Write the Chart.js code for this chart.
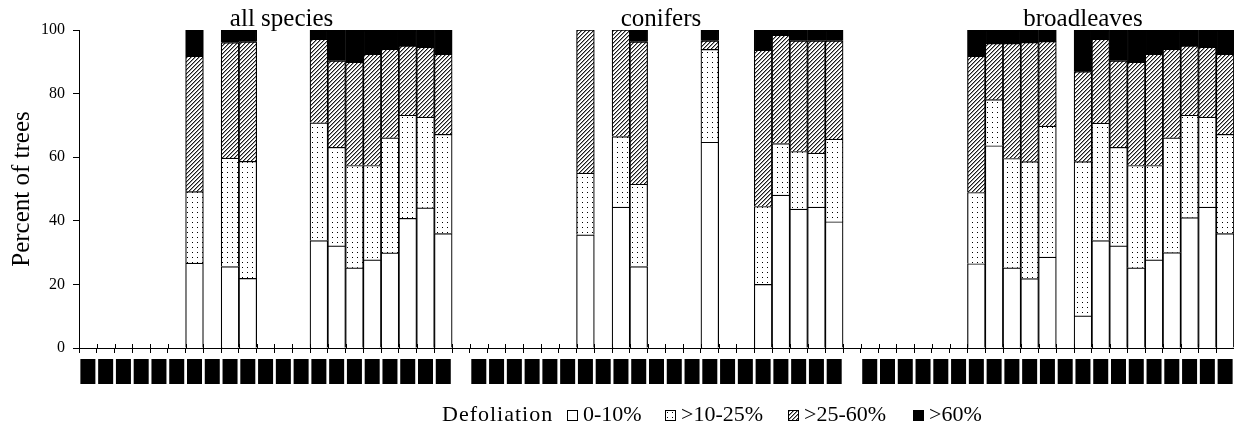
<!DOCTYPE html>
<html><head><meta charset="utf-8">
<script src="https://cdn.jsdelivr.net/npm/chart.js@4.4.1/dist/chart.umd.min.js"></script>
<style>html,body{margin:0;padding:0;background:#fff}canvas{display:block}</style>
</head><body>
<canvas id="c" width="1234" height="430"></canvas>
<script>
// ---------------- data ----------------
const groups = ['all species', 'conifers', 'broadleaves'];
const years = ['1988','1989','1990','1991','1992','1993','1994','1995','1996','1997','1998',
               '1999','2000','2001','2002','2003','2004','2005','2006','2007','2008'];
const classes = ['0-10%', '>10-25%', '>25-60%', '>60%'];

// all species
const allC1 = [null,null,null,null,null,null,26.7,null,25.6,21.9,null,null,null,33.8,32.1,25.2,27.7,29.9,40.8,44.1,36.0];
const allC2 = [null,null,null,null,null,null,22.5,null,34.1,36.8,null,null,null,37.0,31.0,32.2,29.7,36.2,32.4,28.5,31.2];
const allC3 = [null,null,null,null,null,null,42.6,null,36.3,37.6,null,null,null,26.3,27.2,32.5,35.0,27.9,21.8,22.0,25.2];
const allC4 = [null,null,null,null,null,null, 8.2,null, 4.0, 3.7,null,null,null, 2.9, 9.7,10.1, 7.6, 6.0, 5.0, 5.4, 7.6];
// conifers
const conC1 = [null,null,null,null,null,null,35.6,null,44.3,25.6,null,null,null,64.7,null,null,20.0,48.1,43.7,44.3,39.7];
const conC2 = [null,null,null,null,null,null,19.4,null,22.2,25.9,null,null,null,29.2,null,null,24.5,16.2,18.1,17.0,26.0];
const conC3 = [null,null,null,null,null,null,45.0,null,33.5,44.8,null,null,null, 2.7,null,null,49.2,34.1,34.8,35.3,30.9];
const conC4 = [null,null,null,null,null,null,null,null,null, 3.7,null,null,null, 3.4,null,null, 6.3, 1.6, 3.4, 3.4, 3.4];
// broadleaves
const brdC1 = [null,null,null,null,null,null,26.5,63.6,25.2,21.8,28.6,null,10.1,33.8,32.1,25.2,27.7,30.0,41.0,44.3,36.0];
const brdC2 = [null,null,null,null,null,null,22.4,14.5,34.4,36.8,41.2,null,48.5,36.9,31.0,32.2,29.7,36.1,32.2,28.3,31.2];
const brdC3 = [null,null,null,null,null,null,42.9,17.7,36.2,37.5,26.6,null,28.3,26.4,27.2,32.5,35.0,27.9,21.8,22.0,25.2];
const brdC4 = [null,null,null,null,null,null, 8.2, 4.2, 4.2, 3.9, 3.6,null,13.1, 2.9, 9.7,10.1, 7.6, 6.0, 5.0, 5.4, 7.6];

// ---------------- build ----------------
const join3 = (a, b, c) => [...a, null, ...b, null, ...c];
const labels = [...years, '', ...years, '', ...years];
const series = [
  join3(allC1, conC1, brdC1),
  join3(allC2, conC2, brdC2),
  join3(allC3, conC3, brdC3),
  join3(allC4, conC4, brdC4)
];

// layout / style
const SERIF = '"Liberation Serif", "Times New Roman", serif';
const titleAt = [10.9, 32.25, 56.0];      // category position of the group titles
const legendCfg = { title: 'Defoliation', titleX: 442, boxX: [567, 665, 788, 913], box: 11, baseline: 421, size: 22 };

function makeFill(kind) {
  const c = document.createElement('canvas');
  const g = c.getContext('2d');
  if (kind === 'white') return '#ffffff';
  if (kind === 'black') return '#000000';
  if (kind === 'dots') {
    c.width = 5; c.height = 5;
    g.fillStyle = '#fff'; g.fillRect(0, 0, 5, 5);
    g.fillStyle = '#000'; g.fillRect(2, 2, 1, 1);
  }
  if (kind === 'hatch') {
    c.width = 4; c.height = 4;
    g.fillStyle = '#fff'; g.fillRect(0, 0, 4, 4);
    for (let y = 0; y < 4; y++) {
      for (let x = 0; x < 4; x++) {
        const m = (x + y) % 4;
        if (m === 3) { g.fillStyle = '#1a1a1a'; g.fillRect(x, y, 1, 1); }
        else if (m === 0) { g.fillStyle = '#9a9a9a'; g.fillRect(x, y, 1, 1); }
      }
    }
  }
  return g.createPattern(c, 'repeat');
}
const fills = [makeFill('white'), makeFill('dots'), makeFill('hatch'), makeFill('black')];

const groupTitles = {
  id: 'groupTitles',
  afterDraw(chart) {
    const ctx = chart.ctx, xs = chart.scales.x;
    ctx.save();
    ctx.font = '25px ' + SERIF;
    ctx.fillStyle = '#000';
    ctx.textAlign = 'center';
    ctx.textBaseline = 'alphabetic';
    groups.forEach((g, i) => ctx.fillText(g, xs.getPixelForValue(titleAt[i]), 26));
    ctx.restore();
  }
};

const crossTicks = {
  id: 'crossTicks',
  afterDraw(chart) {
    const ctx = chart.ctx, xs = chart.scales.x;
    const yb = chart.chartArea.bottom;
    ctx.save();
    ctx.strokeStyle = '#000';
    ctx.lineWidth = 1;
    ctx.beginPath();
    for (let i = 0; i <= labels.length; i++) {
      const x = Math.round(xs.getPixelForValue(i - 0.5)) + 0.5;
      ctx.moveTo(x, yb - 4);
      ctx.lineTo(x, yb);
    }
    ctx.stroke();
    ctx.restore();
  }
};

const bottomLegend = {
  id: 'bottomLegend',
  afterDraw(chart) {
    const ctx = chart.ctx, L = legendCfg;
    ctx.save();
    ctx.font = L.size + 'px ' + SERIF;
    ctx.fillStyle = '#000';
    ctx.textBaseline = 'alphabetic';
    ctx.textAlign = 'left';
    if ('letterSpacing' in ctx) ctx.letterSpacing = '1px';
    ctx.fillText(L.title, L.titleX, L.baseline);
    if ('letterSpacing' in ctx) ctx.letterSpacing = '0px';
    chart.data.datasets.forEach((ds, k) => {
      const bx = L.boxX[k], by = L.baseline - L.box;
      ctx.fillStyle = ds.backgroundColor;
      ctx.fillRect(bx, by, L.box, L.box);
      ctx.strokeStyle = '#000';
      ctx.lineWidth = 1;
      ctx.strokeRect(bx + 0.5, by + 0.5, L.box - 1, L.box - 1);
      ctx.fillStyle = '#000';
      ctx.fillText(ds.label, bx + L.box + 5, L.baseline);
    });
    ctx.restore();
  }
};

new Chart(document.getElementById('c'), {
  type: 'bar',
  data: {
    labels: labels,
    datasets: classes.map((lab, k) => ({
      label: lab,
      data: series[k],
      backgroundColor: fills[k],
      borderColor: '#000',
      borderWidth: 1.2,
      borderSkipped: 'bottom',
      barPercentage: 1,
      categoryPercentage: 1,
      stack: 'defol'
    }))
  },
  options: {
    responsive: false,
    animation: false,
    devicePixelRatio: 1,
    layout: { padding: { top: 30, right: 0, bottom: 0, left: 0 } },
    plugins: { legend: { display: false }, tooltip: { enabled: false }, title: { display: false } },
    scales: {
      x: {
        stacked: true,
        offset: true,
        afterFit(s) { s.height = 82; s.paddingLeft = 0; s.paddingRight = 0; },
        grid: { display: true, drawOnChartArea: false, drawTicks: true, tickLength: 5, color: '#000', offset: true },
        border: { display: true, color: '#000', width: 1 },
        ticks: {
          autoSkip: false, minRotation: 90, maxRotation: 90, padding: 6, labelOffset: -7.5,
          color: '#000',
          font: { family: SERIF, size: 12.5, lineHeight: 1.2 },
          showLabelBackdrop: true, backdropColor: '#000', backdropPadding: 0
        }
      },
      y: {
        stacked: true,
        min: 0, max: 100,
        afterFit(s) { s.width = 79; s.paddingTop = 0; s.paddingBottom = 0; },
        grid: { display: true, drawOnChartArea: false, drawTicks: true, tickLength: 6, color: '#000' },
        border: { display: true, color: '#000', width: 1 },
        ticks: { stepSize: 20, padding: 8, color: '#000', font: { family: SERIF, size: 16 } },
        title: { display: true, text: 'Percent of trees', color: '#000', font: { family: SERIF, size: 25 }, padding: { top: 7, bottom: 0 } }
      }
    }
  },
  plugins: [groupTitles, crossTicks, bottomLegend]
});
</script>
</body></html>
